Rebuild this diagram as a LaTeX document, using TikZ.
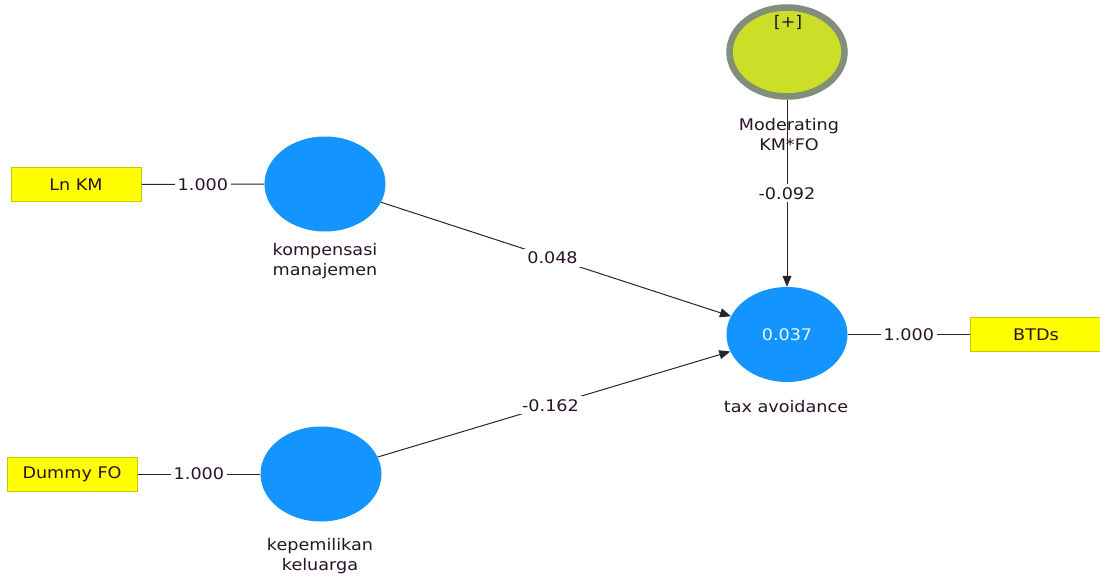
\documentclass[tikz,border=0pt]{standalone}
\usepackage{fontspec}
\setmainfont{DejaVu Sans}[FakeStretch=1.1]
\usetikzlibrary{shapes.geometric,arrows.meta}
\definecolor{lvblue}{RGB}{20,148,255}
\definecolor{modfill}{RGB}{204,222,40}
\definecolor{modborder}{RGB}{128,142,122}
\definecolor{boxyellow}{RGB}{255,255,0}
\definecolor{boxborder}{RGB}{200,200,0}
\definecolor{txt}{RGB}{40,20,40}
\tikzset{
  every node/.style={font=\fontsize{16}{20}\selectfont, text=txt},
  latent/.style={ellipse, fill=lvblue, draw=none, minimum width=121pt, minimum height=95pt, inner sep=0pt},
  modvar/.style={ellipse, fill=modfill, draw=modborder, line width=6.5pt, minimum width=115pt, minimum height=89pt, inner sep=0pt},
  indicator/.style={rectangle, fill=boxyellow, draw=boxborder, line width=1pt, minimum width=130pt, minimum height=34pt, inner sep=0pt},
  caption/.style={align=center, text=txt, inner sep=0pt},
  wlabel/.style={fill=white, inner sep=3pt, text=txt},
  link/.style={draw=black!85, line width=1pt},
  path/.style={draw=black!85, line width=1pt, -{Triangle[length=11pt,width=9pt]}},
}
\begin{document}
\begin{tikzpicture}[x=1pt,y=-1pt]
\useasboundingbox (0,0) rectangle (1100,578);
% nodes
\node[indicator] (lnkm) at (76,184.5) {Ln KM};
\node[indicator] (dfo) at (72,474) {Dummy FO};
\node[indicator, minimum width=131pt] (btd) at (1036,334.5) {BTDs};
\node[latent] (komp) at (325,184) {};
\node[latent] (kep) at (321,474) {};
\node[latent] (tax) at (787,334.5) {\textcolor{white!92!lvblue}{0.037}};
\node[modvar] (mod) at (787,52) {};
\node[caption] (plus) at (788,22) {[+]};
% connectors
\draw[link] (lnkm) -- node[wlabel, pos=0.5] (l1) {1.000} (komp);
\draw[link] (dfo) -- node[wlabel, pos=0.5] (l2) {1.000} (kep);
\draw[link] (tax) -- node[wlabel, pos=0.5] (l3) {1.000} (btd);
\draw[path] (komp) -- node[wlabel, pos=0.49] (p1) {0.048} (tax);
\draw[path] (kep) -- node[wlabel, pos=0.49] (p2) {-0.162} (tax);
\draw[path] (mod.south) -- node[wlabel, pos=0.5] (p3) {-0.092} (tax.north);
% captions
\node[caption] (ckomp) at (325,261) {kompensasi\\manajemen};
\node[caption] (ckep) at (320,556) {kepemilikan\\keluarga};
\node[caption] (ctax) at (786,407) {tax avoidance};
\node[caption] (cmod) at (789,135) {Moderating\\KM*FO};
\end{tikzpicture}
\end{document}
